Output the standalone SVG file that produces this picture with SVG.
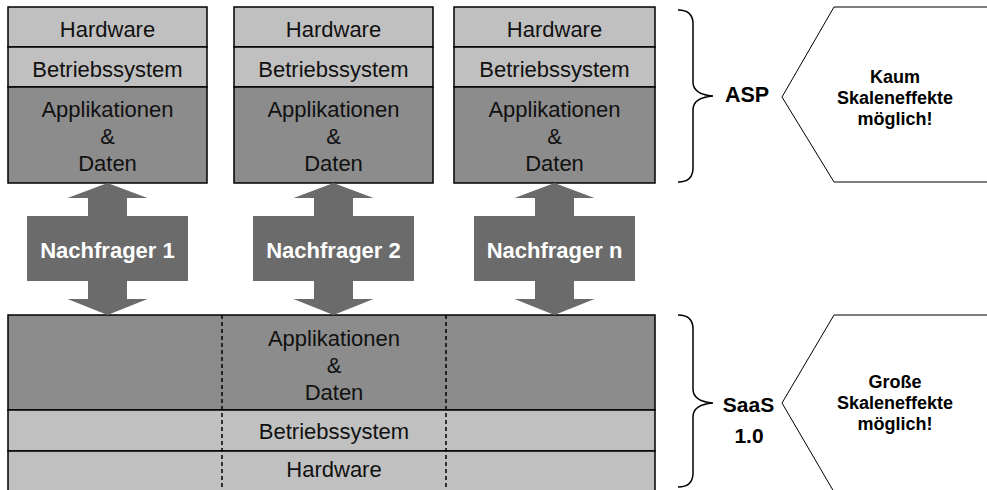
<svg xmlns="http://www.w3.org/2000/svg" width="987" height="490" viewBox="0 0 987 490">
<style>
.light{fill:#c0c0c0;stroke:#000;stroke-width:1.5}
.dark{fill:#8c8c8c;stroke:#000;stroke-width:1.5}
.t{font-family:"Liberation Sans",Arial,sans-serif;font-size:22px;fill:#111;text-anchor:middle}
.arr{fill:#6b6b6b}
.at{font-family:"Liberation Sans",Arial,sans-serif;font-size:22px;font-weight:bold;fill:#fff;text-anchor:middle}
.b{font-family:"Liberation Sans",Arial,sans-serif;font-weight:bold;fill:#000;text-anchor:middle}
.brace{fill:none;stroke:#000;stroke-width:1.5}
.pent{fill:#fff;stroke:#000;stroke-width:1}
.dash{stroke:#000;stroke-width:1.5;stroke-dasharray:4,3}
</style>
<defs>
<path id="arrow" d="M0,183 L40,198 L19.5,198 L19.5,216 L80.5,216 L80.5,281 L19.5,281 L19.5,299 L40,299 L0,315 L-40,299 L-19.5,299 L-19.5,281 L-80.5,281 L-80.5,216 L-19.5,216 L-19.5,198 L-40,198 Z"/>
</defs>
<g id="asp1">
<rect class="light" x="8" y="7" width="199" height="40"/>
<rect class="light" x="8" y="47" width="199" height="40"/>
<rect class="dark" x="8" y="87" width="199" height="96"/>
<text class="t" x="107.5" y="36.5">Hardware</text>
<text class="t" x="107.5" y="76.5">Betriebssystem</text>
<text class="t" x="107.5" y="117">Applikationen</text>
<text class="t" x="107.5" y="144">&amp;</text>
<text class="t" x="107.5" y="171">Daten</text>
</g>
<g id="asp2">
<rect class="light" x="234" y="7" width="199" height="40"/>
<rect class="light" x="234" y="47" width="199" height="40"/>
<rect class="dark" x="234" y="87" width="199" height="96"/>
<text class="t" x="333.5" y="36.5">Hardware</text>
<text class="t" x="333.5" y="76.5">Betriebssystem</text>
<text class="t" x="333.5" y="117">Applikationen</text>
<text class="t" x="333.5" y="144">&amp;</text>
<text class="t" x="333.5" y="171">Daten</text>
</g>
<g id="asp3">
<rect class="light" x="454" y="7" width="201" height="40"/>
<rect class="light" x="454" y="47" width="201" height="40"/>
<rect class="dark" x="454" y="87" width="201" height="96"/>
<text class="t" x="554.5" y="36.5">Hardware</text>
<text class="t" x="554.5" y="76.5">Betriebssystem</text>
<text class="t" x="554.5" y="117">Applikationen</text>
<text class="t" x="554.5" y="144">&amp;</text>
<text class="t" x="554.5" y="171">Daten</text>
</g>
<g id="saas">
<rect class="dark" x="8" y="315" width="647" height="95"/>
<rect class="light" x="8" y="410" width="647" height="41"/>
<rect class="light" x="8" y="451" width="647" height="45"/>
<text class="t" x="334" y="346">Applikationen</text>
<text class="t" x="334" y="373">&amp;</text>
<text class="t" x="334" y="400">Daten</text>
<text class="t" x="334" y="439">Betriebssystem</text>
<text class="t" x="334" y="477">Hardware</text>
</g>
<g id="connectors">
<line class="dash" x1="222" y1="315" x2="222" y2="490"/>
<line class="dash" x1="446" y1="315" x2="446" y2="490"/>
<g id="n1"><use href="#arrow" class="arr" transform="translate(107.5,0)"/><text class="at" x="107.5" y="258">Nachfrager 1</text></g>
<g id="n2"><use href="#arrow" class="arr" transform="translate(333.5,0)"/><text class="at" x="333.5" y="258">Nachfrager 2</text></g>
<g id="nn"><use href="#arrow" class="arr" transform="translate(554.5,0)"/><text class="at" x="554.5" y="258">Nachfrager n</text></g>
<path class="brace" d="M678,10 C688,10 693,14 693,24 L693,82 C693,90 700,95 713,96 C700,97 693,102 693,110 L693,168 C693,178 688,182 678,182"/>
<path class="brace" d="M678,315 C688,315 693,319 693,329 L693,389 C693,397 700,402 713,403 C700,404 693,409 693,417 L693,473 C693,483 688,487 678,487"/>
</g>
<g id="asp-label"><text class="b" x="747" y="102" font-size="21.5">ASP</text></g>
<g id="saas-label">
<text class="b" x="748.5" y="412" font-size="21">SaaS</text>
<text class="b" x="749" y="443" font-size="21">1.0</text>
</g>
<g id="note1">
<polygon class="pent" points="782,97 834,7 992,7 992,182 834,182"/>
<text class="b" x="895" y="83" font-size="18">Kaum</text>
<text class="b" x="895" y="104" font-size="18">Skaleneffekte</text>
<text class="b" x="895" y="125" font-size="18">möglich!</text>
</g>
<g id="note2">
<polygon class="pent" points="782,403 834,315 992,315 992,492 834,492"/>
<text class="b" x="895" y="388" font-size="18">Große</text>
<text class="b" x="895" y="409" font-size="18">Skaleneffekte</text>
<text class="b" x="895" y="430" font-size="18">möglich!</text>
</g>
</svg>
